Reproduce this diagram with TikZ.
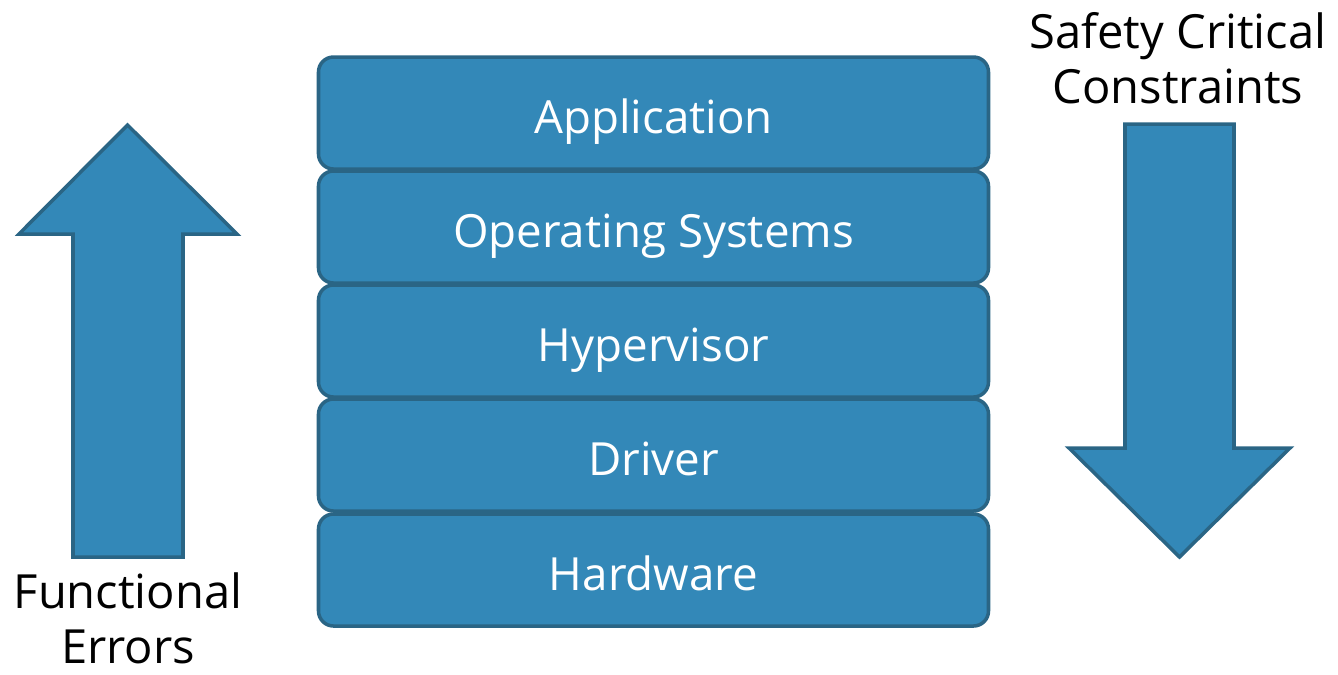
\documentclass[tikz,border=0pt]{standalone}
\usepackage{fontspec}
\setmainfont{Open Sans}
\definecolor{layerblue}{HTML}{3388B8}
\definecolor{layeredge}{HTML}{2A6585}
\tikzset{>=latex,
	layer/.style = {draw = layeredge, fill = layerblue, line width = 1pt, rounded corners = 0.15cm,
		minimum width = 6.7cm, minimum height = 1.12cm, text height = 0.5cm, text depth = 0.1cm,
		text = white, font = \fontsize{13}{16}\selectfont},
	flow/.style = {draw = layeredge, fill = layerblue, line width = 1pt, line join = miter},
	side/.style = {align = center, inner sep = 0pt, font = \fontsize{13.4}{15.6}\selectfont}}
\newcommand\layer[3]{{\node[layer] (#1) at (6.535, -#2 / 100) {#3};}}

\begin{document}
\begin{tikzpicture}
	\useasboundingbox (0, 0) rectangle (13.38, -6.74);
	\layer{hw}{570}{Hardware} \layer{drv}{455}{Driver} \layer{hyp}{341}{Hypervisor}
	\layer{os}{227}{Operating Systems} \layer{app}{113}{Application}
	% up arrow, left side
	\draw[flow] (0.73, -5.57) -- (0.73, -2.34) -- (0.19, -2.34) -- (1.275, -1.25)
		-- (2.37, -2.34) -- (1.83, -2.34) -- (1.83, -5.57) -- cycle;
	% down arrow, right side
	\draw[flow] (11.25, -1.24) -- (11.25, -4.48) -- (10.69, -4.48) -- (11.795, -5.57)
		-- (12.9, -4.48) -- (12.34, -4.48) -- (12.34, -1.24) -- cycle;
	\node[side] (errors) at (1.28, -6.18) {Functional\\Errors};
	\node[side] (safety) at (11.78, -0.58) {Safety Critical\\Constraints};
\end{tikzpicture}
\end{document}
